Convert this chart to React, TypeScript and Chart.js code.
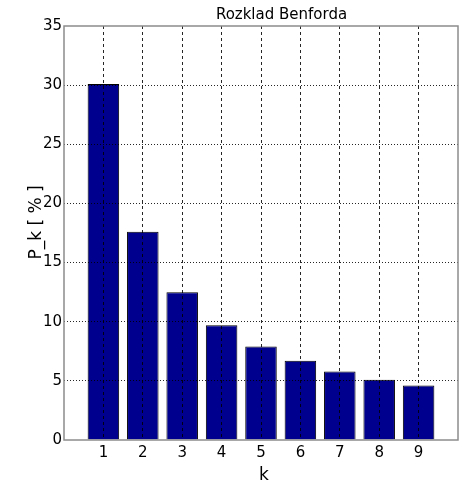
import React, { useEffect, useRef } from "react";
import { Chart, registerables } from "chart.js";

Chart.register(...registerables);

const digits: number[] = [1, 2, 3, 4, 5, 6, 7, 8, 9];
const percents: number[] = [30.1, 17.6, 12.5, 9.7, 7.9, 6.7, 5.8, 5.1, 4.6];
const titleText = "Rozklad Benforda";
const xLabel = "k";
const yLabel = "P_k [ % ]";

const FONT = "'DejaVu Sans', sans-serif";

const textPlugin = {
  id: "matlabText",
  afterDraw(chart: any) {
    const { ctx, chartArea } = chart;
    ctx.save();
    // box
    ctx.strokeStyle = "#8c8c8c";
    ctx.lineWidth = 1.5;
    ctx.strokeRect(chartArea.left, chartArea.top, chartArea.right - chartArea.left, chartArea.bottom - chartArea.top);
    ctx.fillStyle = "#000";
    // title
    ctx.font = `15px ${FONT}`;
    ctx.textAlign = "center";
    ctx.textBaseline = "alphabetic";
    ctx.fillText(titleText, 281.5, 18.5);
    // x label
    ctx.font = `17px ${FONT}`;
    ctx.fillText(xLabel, 264, 480);
    // y label
    ctx.translate(41, 222.5);
    ctx.rotate(-Math.PI / 2);
    ctx.fillText(yLabel, 0, 0);
    ctx.restore();
  },
};

export default function App() {
  const ref = useRef<HTMLCanvasElement | null>(null);
  useEffect(() => {
    document.body.style.margin = "0";
    if (!ref.current) return;
    const chart = new Chart(ref.current, {
      type: "bar",
      data: {
        datasets: [
          {
            data: digits.map((d, i) => ({ x: d, y: percents[i] })),
            backgroundColor: "rgb(0,0,143)",
            borderColor: "#000",
            borderWidth: 1,
            barPercentage: 0.8,
            categoryPercentage: 1.0,
          },
        ],
      },
      options: {
        animation: false,
        responsive: true,
        maintainAspectRatio: false,
        layout: { padding: { top: 26, right: 4, left: 0, bottom: 0 } },
        plugins: {
          legend: { display: false },
          title: { display: false },
          tooltip: { enabled: false },
        },
        scales: {
          x: {
            type: "linear",
            min: 0,
            max: 10,
            offset: false,
            afterFit: (s: any) => {
              s.height = 43;
            },
            ticks: {
              stepSize: 1,
              color: "#000",
              padding: 4,
              font: { family: FONT, size: 15 },
              maxRotation: 0,
              autoSkip: false,
              callback: (v: any) => (v === 0 || v === 10 ? "" : String(v)),
            },
            grid: {
              offset: false,
              z: 1,
              color: (c: any) =>
                c.tick && (c.tick.value === 0 || c.tick.value === 10) ? "rgba(0,0,0,0)" : "rgba(0,0,0,0.85)",
              lineWidth: 1,
              drawTicks: false,
            },
            border: { display: false, dash: [3, 3] },
          },
          y: {
            min: 0,
            max: 35,
            afterFit: (s: any) => {
              s.width = 64;
            },
            ticks: {
              stepSize: 5,
              color: "#000",
              padding: 2,
              font: { family: FONT, size: 15 },
            },
            grid: {
              z: 1,
              color: (c: any) =>
                c.tick && (c.tick.value === 0 || c.tick.value === 35) ? "rgba(0,0,0,0)" : "rgba(0,0,0,0.85)",
              lineWidth: 1,
              drawTicks: false,
            },
            border: { display: false, dash: [1, 2] },
          },
        },
      },
      plugins: [textPlugin],
    });
    return () => chart.destroy();
  }, []);
  return (
    <div style={{ width: 462, height: 483, position: "relative" }}>
      <canvas ref={ref} />
    </div>
  );
}
